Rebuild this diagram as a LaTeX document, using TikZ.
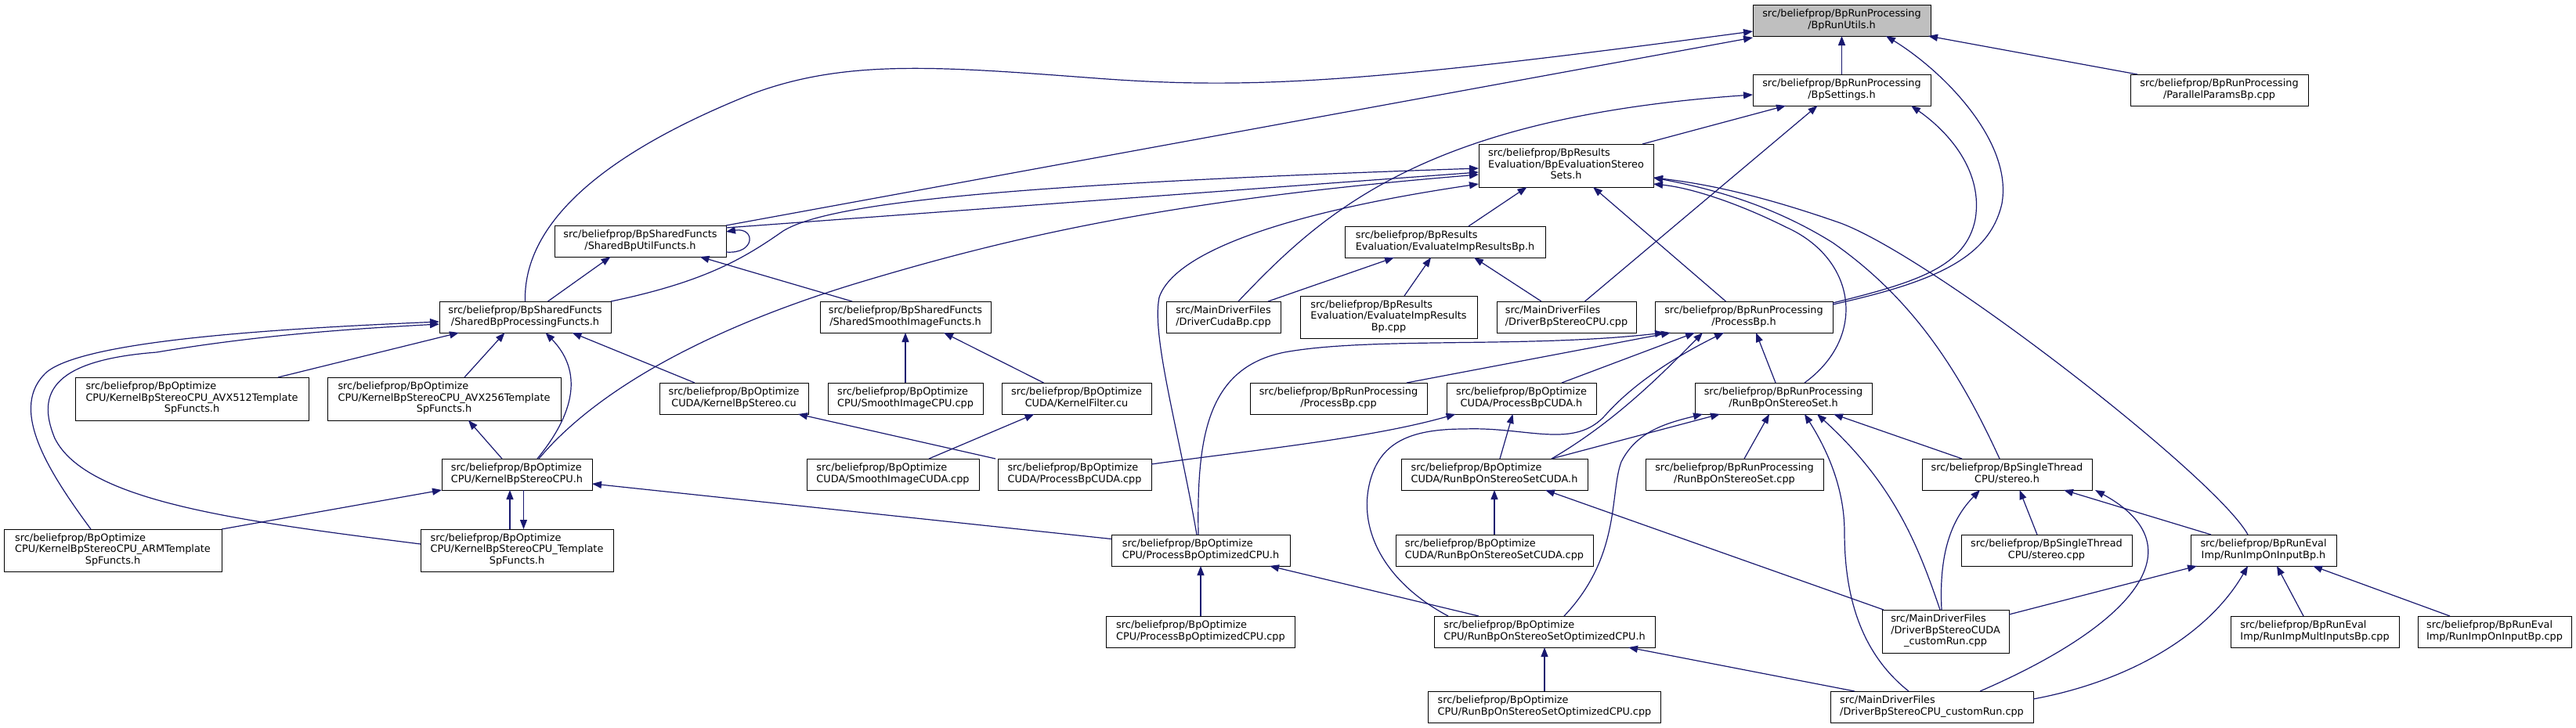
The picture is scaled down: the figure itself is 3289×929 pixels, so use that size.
\documentclass[tikz,border=0pt]{standalone}
\usepackage{fontspec}
\setmainfont{DejaVu Sans}
\usetikzlibrary{arrows.meta}
\definecolor{edgeblue}{HTML}{191970}
\definecolor{rootgray}{HTML}{BFBFBF}
\newcommand\nodefont{\fontsize{12.85}{14.5}\selectfont}
\newcommand\ltwo[2]{\begin{tabular}{@{}l@{}}#1\\\multicolumn{1}{@{}c@{}}{#2}\end{tabular}}
\newcommand\lthree[3]{\begin{tabular}{@{}l@{}}#1\\#2\\\multicolumn{1}{@{}c@{}}{#3}\end{tabular}}
\begin{document}
\begin{tikzpicture}[x=1pt,y=-1pt,
  nbox/.style={draw=black, line width=0.9pt, fill=white, inner sep=0pt, outer sep=0pt, font=\nodefont},
  dep/.style={draw=edgeblue, line width=1.2pt, -{Triangle[length=12pt,width=9pt]}}]
\useasboundingbox (0,0) rectangle (3289,929);
% nodes
\node[nbox, fill=rootgray, minimum width=227, minimum height=40] (utils) at (2351.5,26) {\ltwo{src/beliefprop/BpRunProcessing}{/BpRunUtils.h}};
\node[nbox, minimum width=227, minimum height=40] (settings) at (2351.5,115) {\ltwo{src/beliefprop/BpRunProcessing}{/BpSettings.h}};
\node[nbox, minimum width=227, minimum height=40] (parallel) at (2833.5,115) {\ltwo{src/beliefprop/BpRunProcessing}{/ParallelParamsBp.cpp}};
\node[nbox, minimum width=223, minimum height=55] (evalsets) at (1999.5,211.5) {\lthree{src/beliefprop/BpResults}{Evaluation/BpEvaluationStereo}{Sets.h}};
\node[nbox, minimum width=219, minimum height=40] (sutil) at (817.5,308) {\ltwo{src/beliefprop/BpSharedFuncts}{/SharedBpUtilFuncts.h}};
\node[nbox, minimum width=256, minimum height=40] (evalimp) at (1845,309) {\ltwo{src/beliefprop/BpResults}{Evaluation/EvaluateImpResultsBp.h}};
\node[nbox, minimum width=219, minimum height=40] (sproc) at (670.5,405) {\ltwo{src/beliefprop/BpSharedFuncts}{/SharedBpProcessingFuncts.h}};
\node[nbox, minimum width=218, minimum height=40] (ssmooth) at (1156,405) {\ltwo{src/beliefprop/BpSharedFuncts}{/SharedSmoothImageFuncts.h}};
\node[nbox, minimum width=146, minimum height=40] (drvcuda) at (1562,405) {\ltwo{src/MainDriverFiles}{/DriverCudaBp.cpp}};
\node[nbox, minimum width=226, minimum height=54] (evalimpcpp) at (1773,405) {\lthree{src/beliefprop/BpResults}{Evaluation/EvaluateImpResults}{Bp.cpp}};
\node[nbox, minimum width=178, minimum height=40] (drvcpu) at (2000,405) {\ltwo{src/MainDriverFiles}{/DriverBpStereoCPU.cpp}};
\node[nbox, minimum width=227, minimum height=40] (procbph) at (2226.5,405) {\ltwo{src/beliefprop/BpRunProcessing}{/ProcessBp.h}};
\node[nbox, minimum width=298, minimum height=55] (avx512) at (245,509.5) {\lthree{src/beliefprop/BpOptimize}{CPU/KernelBpStereoCPU\_AVX512Template}{SpFuncts.h}};
\node[nbox, minimum width=298, minimum height=55] (avx256) at (567,509.5) {\lthree{src/beliefprop/BpOptimize}{CPU/KernelBpStereoCPU\_AVX256Template}{SpFuncts.h}};
\node[nbox, minimum width=190, minimum height=40] (kstereocu) at (937,509) {\ltwo{src/beliefprop/BpOptimize}{CUDA/KernelBpStereo.cu}};
\node[nbox, minimum width=198, minimum height=40] (smoothcpu) at (1156,509) {\ltwo{src/beliefprop/BpOptimize}{CPU/SmoothImageCPU.cpp}};
\node[nbox, minimum width=191, minimum height=40] (kfilter) at (1374.5,509) {\ltwo{src/beliefprop/BpOptimize}{CUDA/KernelFilter.cu}};
\node[nbox, minimum width=226, minimum height=40] (procbpcpp) at (1709,509) {\ltwo{src/beliefprop/BpRunProcessing}{/ProcessBp.cpp}};
\node[nbox, minimum width=191, minimum height=40] (procbpcudah) at (1942.5,509) {\ltwo{src/beliefprop/BpOptimize}{CUDA/ProcessBpCUDA.h}};
\node[nbox, minimum width=226, minimum height=40] (runset) at (2277,509) {\ltwo{src/beliefprop/BpRunProcessing}{/RunBpOnStereoSet.h}};
\node[nbox, minimum width=192, minimum height=40] (kcpu) at (660,606) {\ltwo{src/beliefprop/BpOptimize}{CPU/KernelBpStereoCPU.h}};
\node[nbox, minimum width=220, minimum height=40] (smoothcuda) at (1140,606) {\ltwo{src/beliefprop/BpOptimize}{CUDA/SmoothImageCUDA.cpp}};
\node[nbox, minimum width=196, minimum height=40] (procbpcudacpp) at (1372,606) {\ltwo{src/beliefprop/BpOptimize}{CUDA/ProcessBpCUDA.cpp}};
\node[nbox, minimum width=238, minimum height=40] (runsetcuda) at (1908,606) {\ltwo{src/beliefprop/BpOptimize}{CUDA/RunBpOnStereoSetCUDA.h}};
\node[nbox, minimum width=227, minimum height=40] (runsetcpp) at (2214.5,606) {\ltwo{src/beliefprop/BpRunProcessing}{/RunBpOnStereoSet.cpp}};
\node[nbox, minimum width=217, minimum height=40] (stereoh) at (2562.5,606) {\ltwo{src/beliefprop/BpSingleThread}{CPU/stereo.h}};
\node[nbox, minimum width=278, minimum height=54] (arm) at (144,703) {\lthree{src/beliefprop/BpOptimize}{CPU/KernelBpStereoCPU\_ARMTemplate}{SpFuncts.h}};
\node[nbox, minimum width=246, minimum height=54] (tmpl) at (660,703) {\lthree{src/beliefprop/BpOptimize}{CPU/KernelBpStereoCPU\_Template}{SpFuncts.h}};
\node[nbox, minimum width=228, minimum height=40] (procopth) at (1533,703) {\ltwo{src/beliefprop/BpOptimize}{CPU/ProcessBpOptimizedCPU.h}};
\node[nbox, minimum width=252, minimum height=40] (runsetcudacpp) at (1908,703) {\ltwo{src/beliefprop/BpOptimize}{CUDA/RunBpOnStereoSetCUDA.cpp}};
\node[nbox, minimum width=218, minimum height=40] (stereocpp) at (2613,703) {\ltwo{src/beliefprop/BpSingleThread}{CPU/stereo.cpp}};
\node[nbox, minimum width=186, minimum height=40] (runimph) at (2890,703) {\ltwo{src/beliefprop/BpRunEval}{Imp/RunImpOnInputBp.h}};
\node[nbox, minimum width=241, minimum height=40] (procoptcpp) at (1533,807) {\ltwo{src/beliefprop/BpOptimize}{CPU/ProcessBpOptimizedCPU.cpp}};
\node[nbox, minimum width=282, minimum height=40] (runsetopth) at (1972,807) {\ltwo{src/beliefprop/BpOptimize}{CPU/RunBpOnStereoSetOptimizedCPU.h}};
\node[nbox, minimum width=162, minimum height=55] (cudacustom) at (2484,806.5) {\lthree{src/MainDriverFiles}{/DriverBpStereoCUDA}{\_customRun.cpp}};
\node[nbox, minimum width=215, minimum height=40] (multinputs) at (2955.5,807) {\ltwo{src/beliefprop/BpRunEval}{Imp/RunImpMultInputsBp.cpp}};
\node[nbox, minimum width=196, minimum height=40] (runimpcpp) at (3185,807) {\ltwo{src/beliefprop/BpRunEval}{Imp/RunImpOnInputBp.cpp}};
\node[nbox, minimum width=297, minimum height=40] (runsetoptcpp) at (1972,903) {\ltwo{src/beliefprop/BpOptimize}{CPU/RunBpOnStereoSetOptimizedCPU.cpp}};
\node[nbox, minimum width=259, minimum height=40] (cpucustom) at (2466.5,903) {\ltwo{src/MainDriverFiles}{/DriverBpStereoCPU\_customRun.cpp}};
% edges into BpRunUtils.h
\draw[dep] (sproc.north) .. controls (668,290) and (760,200) .. (960,120) .. controls (1080,75) and (1200,85) .. (1400,100) .. controls (1600,115) and (1750,105) .. ([yshift=-14]utils.west);
\draw[dep] (sutil.north east) -- ([yshift=-22]utils.west);
\draw[dep] (settings.north) -- (utils.south);
\draw[dep] ([xshift=9]parallel.north west) -- ([xshift=-3]utils.south east);
\draw[dep] ([yshift=16]procbph.east) .. controls (2470,360) and (2540,330) .. (2556,260) .. controls (2570,180) and (2480,90) .. ([xshift=-57]utils.south east);
% edges into BpSettings.h
\draw[dep] ([yshift=18]procbph.east) .. controls (2450,360) and (2510,340) .. (2522,280) .. controls (2532,220) and (2490,170) .. ([xshift=-25]settings.south east);
\draw[dep] ([xshift=97.5]evalsets.north) -- ([xshift=42]settings.south west);
\draw[dep] ([xshift=23.5]drvcpu.north) -- ([xshift=-31]settings.south);
\draw[dep] ([xshift=19]drvcuda.north) .. controls (1690,270) and (1820,150) .. ([yshift=-6]settings.west);
% edges into BpEvaluationStereoSets.h
\draw[dep] ([xshift=-23]procbph.north) -- ([xshift=34.5]evalsets.south);
\draw[dep] ([xshift=30]evalimp.north) -- ([xshift=-50]evalsets.south);
\draw[dep] ([yshift=-3]sutil.north east) -- ([yshift=-8.5]evalsets.west);
\draw[dep] (sproc.north east) .. controls (900,360) and (950,330) .. (1000,295) .. controls (1060,258) and (1300,235) .. ([yshift=-3.5]evalsets.west);
\draw[dep] ([xshift=28]kcpu.north) .. controls (760,500) and (900,420) .. (1100,360) .. controls (1300,300) and (1500,255) .. ([yshift=-11.5]evalsets.west);
\draw[dep] ([xshift=-5]procopth.north) .. controls (1505,550) and (1470,430) .. (1480,380) .. controls (1500,320) and (1650,270) .. ([yshift=-23.5]evalsets.west);
\draw[dep] ([xshift=27]runset.north) .. controls (2385,430) and (2370,330) .. (2280,290) .. controls (2220,260) and (2160,240) .. ([yshift=-23.5]evalsets.east);
\draw[dep] ([xshift=-9.5]stereoh.north) .. controls (2500,470) and (2440,380) .. (2340,310) .. controls (2260,260) and (2180,240) .. ([yshift=-15.5]evalsets.east);
\draw[dep] ([xshift=-20]runimph.north) .. controls (2830,610) and (2470,330) .. (2350,285) .. controls (2250,250) and (2180,235) .. ([yshift=-15.5]evalsets.east);
% edges into EvaluateImpResultsBp.h
\draw[dep] ([xshift=-16]drvcuda.north east) -- ([xshift=-65]evalimp.south);
\draw[dep] ([xshift=20]evalimpcpp.north) -- ([xshift=-18]evalimp.south);
\draw[dep] ([xshift=-32]drvcpu.north) -- ([xshift=37]evalimp.south);
% edges into SharedBpUtilFuncts.h
\draw[dep] ([xshift=29]sproc.north) -- ([xshift=-38]sutil.south);
\draw[dep] ([xshift=-68]ssmooth.north) -- ([xshift=76]sutil.south);
\draw[dep] ([yshift=-14]sutil.east) .. controls (965,325) and (965,290) .. ([yshift=12]sutil.east);
% edges into SharedBpProcessingFuncts.h
\draw[dep] ([xshift=110]avx512.north) -- ([xshift=-84.5]sproc.south);
\draw[dep] ([xshift=26]avx256.north) -- ([xshift=-26]sproc.south);
\draw[dep] ([xshift=26]kcpu.north) .. controls (740,520) and (740,470) .. ([xshift=26]sproc.south);
\draw[dep] ([xshift=-50]kstereocu.north) -- ([xshift=60]sproc.south);
\draw[dep] ([xshift=-28]arm.north) .. controls (60,600) and (10,520) .. (60,475) .. controls (110,435) and (350,420) .. ([yshift=-6]sproc.west);
\draw[dep] ([yshift=8]tmpl.west) .. controls (300,665) and (110,640) .. (70,560) .. controls (45,500) and (70,460) .. (200,450) .. controls (330,428) and (450,420) .. ([yshift=-9]sproc.west);
% KernelBpStereoCPU.h related
\draw[dep] ([xshift=-19]kcpu.north) -- ([xshift=31]avx256.south);
\draw[dep] ([xshift=-9]tmpl.north) -- ([xshift=-9]kcpu.south);
\draw[dep] ([xshift=8.5]kcpu.south) -- ([xshift=8.5]tmpl.north);
\draw[dep] (arm.north east) -- (kcpu.south west);
\draw[dep] ([yshift=14.5]procopth.west) -- ([yshift=-12]kcpu.east);
% smoothing / CUDA kernels
\draw[dep] (smoothcpu.north) -- (ssmooth.south);
\draw[dep] ([xshift=-42]kfilter.north) -- ([xshift=49]ssmooth.south);
\draw[dep] ([xshift=46]smoothcuda.north) -- ([xshift=-54]kfilter.south);
\draw[dep] ([xshift=-101]procbpcudacpp.north) -- ([xshift=82]kstereocu.south);
\draw[dep] ([yshift=13]procbpcudacpp.east) .. controls (1600,575) and (1750,560) .. ([xshift=-84]procbpcudah.south);
% edges into ProcessBp.h
\draw[dep] ([xshift=-3]procopth.north) .. controls (1528,560) and (1540,470) .. (1640,450) .. controls (1750,430) and (1950,445) .. ([xshift=-101.5]procbph.south);
\draw[dep] ([xshift=87]procbpcpp.north) -- ([xshift=-93.5]procbph.south);
\draw[dep] ([xshift=51.5]procbpcudah.north) -- ([xshift=-62.5]procbph.south);
\draw[dep] ([xshift=73]runsetcuda.north) .. controls (2060,540) and (2120,480) .. ([xshift=-52.5]procbph.south);
\draw[dep] ([xshift=-123]runsetopth.north) .. controls (1770,745) and (1735,680) .. (1748,620) .. controls (1760,565) and (1800,548) .. (1870,548) .. controls (1950,545) and (2010,575) .. (2050,530) .. controls (2090,485) and (2150,450) .. ([xshift=-25.5]procbph.south);
\draw[dep] ([xshift=-10]runset.north) -- ([xshift=15.5]procbph.south);
% edges into RunBpOnStereoSet.h
\draw[dep] ([xshift=-57.5]stereoh.north) -- ([xshift=64]runset.south);
\draw[dep] ([xshift=73]runsetcuda.north) -- ([xshift=-81]runset.south);
\draw[dep] ([xshift=25]runsetopth.north) .. controls (2070,710) and (2055,630) .. (2070,590) .. controls (2090,550) and (2130,540) .. ([xshift=-103]runset.south);
\draw[dep] ([xshift=12.5]runsetcpp.north) -- ([xshift=-18]runset.south);
\draw[dep] ([xshift=-29.5]cpucustom.north) .. controls (2370,830) and (2355,750) .. (2355,680) .. controls (2355,620) and (2330,570) .. ([xshift=27]runset.south);
\draw[dep] ([xshift=-7]cudacustom.north) .. controls (2450,700) and (2420,620) .. ([xshift=43]runset.south);
% edges into RunBpOnStereoSetCUDA.h / ProcessBpCUDA.h
\draw[dep] (runsetcudacpp.north) -- (runsetcuda.south);
\draw[dep] ([xshift=2]cudacustom.north west) -- ([xshift=65]runsetcuda.south);
\draw[dep] ([xshift=7]runsetcuda.north) -- ([xshift=-11]procbpcudah.south);
% ProcessBpOptimizedCPU.h / RunBpOnStereoSetOptimizedCPU.h
\draw[dep] ([xshift=-84]runsetopth.north) -- ([xshift=-26]procopth.south east);
\draw[dep] (procoptcpp.north) -- (procopth.south);
\draw[dep] (runsetoptcpp.north) -- (runsetopth.south);
\draw[dep] ([xshift=-98.5]cpucustom.north) -- ([xshift=107]runsetopth.south);
% edges into stereo.h
\draw[dep] ([xshift=-12]stereocpp.north) -- ([xshift=16]stereoh.south);
\draw[dep] ([xshift=-5]cudacustom.north) .. controls (2475,700) and (2495,660) .. ([xshift=-34.5]stereoh.south);
\draw[dep] ([xshift=-67]runimph.north) -- ([xshift=72.5]stereoh.south);
\draw[dep] ([xshift=61.5]cpucustom.north) .. controls (2720,800) and (2810,700) .. ([xshift=112.5]stereoh.south);
% edges into RunImpOnInputBp.h
\draw[dep] ([yshift=21.5]cudacustom.east) -- ([xshift=-85]runimph.south);
\draw[dep] ([yshift=10]cpucustom.east) .. controls (2720,870) and (2820,810) .. ([xshift=-20]runimph.south);
\draw[dep] ([xshift=-14.5]multinputs.north) -- ([xshift=17]runimph.south);
\draw[dep] ([xshift=-57]runimpcpp.north) -- ([xshift=63]runimph.south);
\end{tikzpicture}
\end{document}
